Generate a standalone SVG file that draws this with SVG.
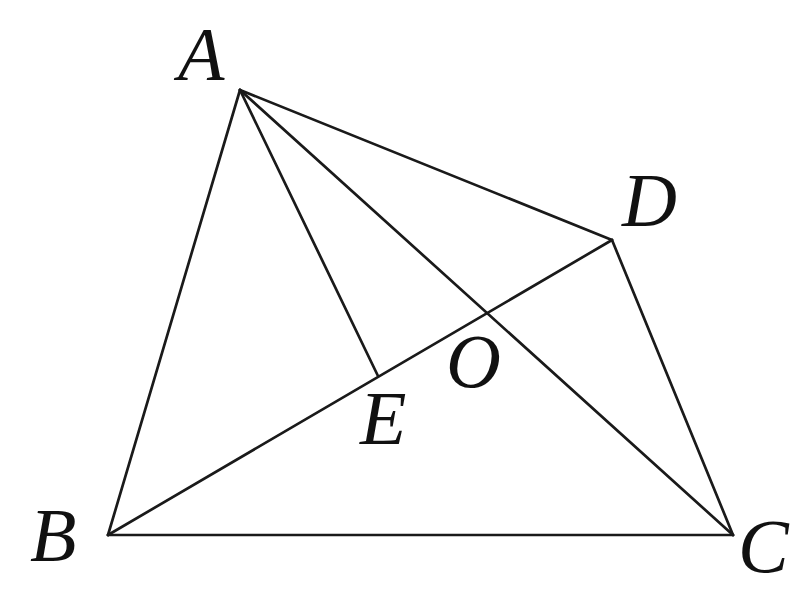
<svg xmlns="http://www.w3.org/2000/svg" width="801" height="590" viewBox="0 0 801 590">
<style>
.l{stroke:#1a1a1a;stroke-width:2.7;fill:none;stroke-linecap:round}
.t{font-family:"Liberation Serif",serif;font-style:italic;font-size:76px;fill:#111}
</style>
<rect width="801" height="590" fill="#fff"/>
<g id="edges">
<line class="l" x1="240" y1="90" x2="108" y2="535"/>
<line class="l" x1="108" y1="535" x2="733" y2="535"/>
<line class="l" x1="733" y1="535" x2="612" y2="240"/>
<line class="l" x1="612" y1="240" x2="240" y2="90"/>
<line class="l" x1="240" y1="90" x2="733" y2="535"/>
<line class="l" x1="108" y1="535" x2="612" y2="240"/>
<line class="l" x1="240" y1="90" x2="378" y2="376"/>
</g>
<g id="A"><text class="t" x="178" y="80">A</text></g>
<g id="B"><text class="t" x="30" y="561">B</text></g>
<g id="C"><text class="t" x="738" y="572">C</text></g>
<g id="D"><text class="t" x="622" y="226">D</text></g>
<g id="E"><text class="t" x="360" y="444">E</text></g>
<g id="O"><text class="t" x="446" y="387">O</text></g>
</svg>
